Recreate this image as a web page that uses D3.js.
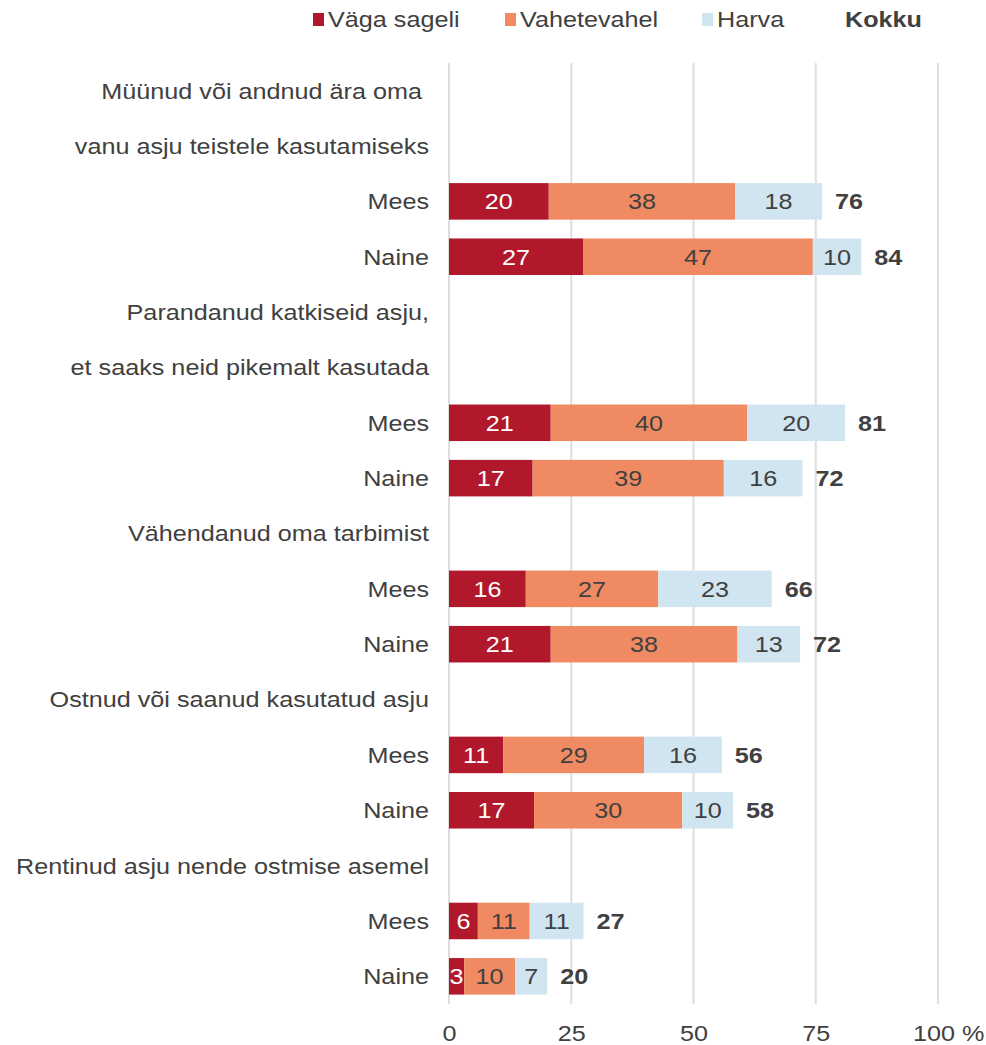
<!DOCTYPE html>
<html>
<head>
<meta charset="utf-8">
<script src="https://cdn.jsdelivr.net/npm/d3@7"></script>
<style>
  html, body { margin: 0; padding: 0; background: #ffffff; }
  svg { display: block; }
  text { font-family: "Liberation Sans", Arial, sans-serif; }
</style>
</head>
<body>
<svg id="chart" width="986" height="1045"></svg>
<script>
// ---- Data ----
const activityLines = [
  ["Müünud või andnud ära oma ", "vanu asju teistele kasutamiseks"],
  ["Parandanud katkiseid asju,", "et saaks neid pikemalt kasutada"],
  ["Vähendanud oma tarbimist"],
  ["Ostnud või saanud kasutatud asju"],
  ["Rentinud asju nende ostmise asemel"]
];
const genders = ["Mees", "Naine"];
const seriesNames = ["Väga sageli", "Vahetevahel", "Harva"];
const totalName = "Kokku";
// values per bar, in order: activity1 Mees, activity1 Naine, activity2 Mees, ...
const vagaSageli  = [20.4, 27.4, 20.8, 17.1, 15.7, 20.8, 11.1, 17.4, 5.9, 3.1];
const vahetevahel = [38.1, 47.0, 40.2, 39.1, 27.1, 38.2, 28.8, 30.3, 10.6, 10.4];
const harva       = [17.8,  9.9, 20.0, 16.1, 23.2, 12.8, 15.9, 10.4, 11.0, 6.6];
const kokku       = [76, 84, 81, 72, 66, 72, 56, 58, 27, 20];
const xTicks = [0, 25, 50, 75, 100];

// ---- Styles ----
const colors = ["#b2182b", "#ef8a62", "#d1e5f0"];
const labelColors = ["#ffffff", "#404040", "#404040"];
const textColor = "#404040";
const fontSize = 22.5;
const stretch = 1.12;

// ---- Build rows ----
const rows = [];
let barIdx = 0;
activityLines.forEach((lines, ai) => {
  lines.forEach((l, li) => rows.push({ id: `h${ai}_${li}`, label: l, bar: null }));
  genders.forEach(g => {
    const i = barIdx++;
    rows.push({
      id: `b${ai}_${g}`, label: g,
      bar: { vals: [vagaSageli[i], vahetevahel[i], harva[i]], total: kokku[i] }
    });
  });
});

const svg = d3.select("#chart");
const x0 = 449, x1 = 938, yTop = 63, yBot = 1004;

const x = d3.scaleLinear().domain([0, 100]).range([x0, x1]);
const y = d3.scaleBand().domain(rows.map(r => r.id)).range([yTop, yBot]).padding(0);
const barH = y.bandwidth() * 0.66;

function sText(g, px, py, str, opts = {}) {
  const t = g.append("text")
    .attr("transform", `translate(${px},${py}) scale(${stretch},1)`)
    .attr("text-anchor", opts.anchor || "start")
    .attr("dy", opts.dy || "0.35em")
    .attr("fill", opts.fill || textColor)
    .attr("font-size", opts.size || fontSize)
    .attr("font-weight", opts.weight || "normal")
    .style("white-space", "pre")
    .text(str);
  return t;
}

// gridlines
svg.append("g").selectAll("line").data(xTicks).join("line")
  .attr("x1", d => x(d)).attr("x2", d => x(d))
  .attr("y1", yTop).attr("y2", yBot)
  .attr("stroke", "#dedede").attr("stroke-width", 2);

// axis
const axis = d3.axisBottom(x).tickValues(xTicks).tickSize(0).tickPadding(21)
  .tickFormat(d => d === 100 ? "100 %" : String(d));
const ax = svg.append("g").attr("transform", `translate(0,${yBot})`).call(axis);
ax.select(".domain").remove();
ax.selectAll("text")
  .attr("font-family", "Liberation Sans, Arial, sans-serif")
  .attr("font-size", fontSize)
  .attr("fill", textColor)
  .attr("transform", `scale(${stretch},1)`);
// "100 %": centre the number on its tick, but keep it inside the picture
ax.selectAll("text").filter(d => d === 100).each(function () {
  const tmp = svg.append("text").attr("font-size", fontSize)
    .attr("font-family", "Liberation Sans, Arial, sans-serif").text("100");
  const w = tmp.node().getComputedTextLength();
  tmp.remove();
  const wAll = this.getComputedTextLength();
  const tickX = x(100);
  let startPx = tickX - (w * stretch) / 2;
  startPx = Math.min(startPx, 984 - wAll * stretch);
  d3.select(this).attr("text-anchor", "start").attr("x", (startPx - tickX) / stretch);
});

// row labels
const lab = svg.append("g");
rows.forEach(r => {
  sText(lab, 429, y(r.id) + y.bandwidth() / 2, r.label, { anchor: "end" });
});

// bars
const barRows = rows.filter(r => r.bar);
const bars = svg.append("g");
barRows.forEach(r => {
  const cy = y(r.id) + y.bandwidth() / 2;
  let acc = 0;
  r.bar.vals.forEach((v, si) => {
    const start = acc, end = acc + v;
    bars.append("rect")
      .attr("x", x(start)).attr("width", x(end) - x(start))
      .attr("y", cy - barH / 2).attr("height", barH)
      .attr("fill", colors[si]);
    acc = end;
  });
  acc = 0;
  r.bar.vals.forEach((v, si) => {
    const mid = acc + v / 2;
    sText(bars, x(mid), cy, d3.format(".0f")(v), { anchor: "middle", fill: labelColors[si] });
    acc += v;
  });
  sText(bars, x(acc) + 13, cy, String(r.bar.total), { weight: "bold" });
});

// legend
const leg = svg.append("g");
const legY = 19;
const legItems = [
  { sx: 313, tx: 328, name: seriesNames[0], c: colors[0] },
  { sx: 505, tx: 520, name: seriesNames[1], c: colors[1] },
  { sx: 702, tx: 717, name: seriesNames[2], c: colors[2] }
];
legItems.forEach(it => {
  leg.append("rect").attr("x", it.sx).attr("y", legY - 6).attr("width", 11).attr("height", 13).attr("fill", it.c);
  sText(leg, it.tx, legY, it.name);
});
sText(leg, 845, legY, totalName, { weight: "bold" });
</script>
</body>
</html>
